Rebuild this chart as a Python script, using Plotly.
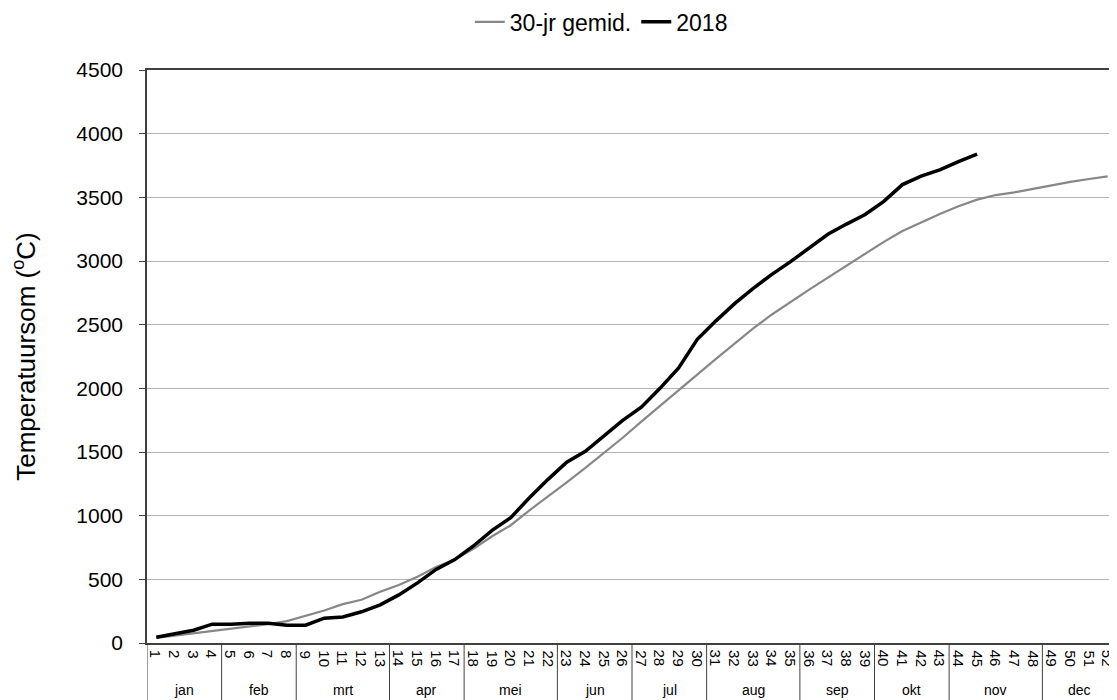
import plotly.graph_objects as go

# month names and number of weeks in each month (x-axis grouping)
months = ["jan", "feb", "mrt", "apr", "mei", "jun", "jul", "aug", "sep", "okt", "nov", "dec"]
weeks_per_month = [4, 4, 5, 4, 5, 4, 4, 5, 4, 4, 5, 4]
weeks = [str(w) for w in range(1, 53)]

# 30-year average temperature sum, week 1..52
avg_30yr = [40, 58, 75, 92, 110, 128, 148, 172, 212, 255, 305, 340, 403, 455,
            520, 597, 655, 740, 838, 925, 1042, 1150, 1262, 1375, 1492, 1612,
            1738, 1862, 1988, 2111, 2231, 2351, 2470, 2580, 2680, 2775, 2870,
            2965, 3060, 3150, 3235, 3304, 3369, 3430, 3482, 3518, 3539, 3567,
            3595, 3621, 3644, 3665]

# 2018 temperature sum, week 1..45
y2018 = [45, 72, 100, 148, 148, 155, 155, 140, 140, 195, 205, 245, 300, 378,
         472, 578, 655, 762, 885, 985, 1140, 1285, 1420, 1505, 1625, 1748,
         1852, 2000, 2160, 2385, 2530, 2665, 2785, 2895, 2995, 3105, 3210,
         3290, 3365, 3468, 3600, 3667, 3716, 3781, 3840]

W, H = 1109, 692          # page body adds an 8px margin
plot_top, plot_bottom = 62, 635
plot_h = plot_bottom - plot_top
label_y = -(682 - plot_bottom) / plot_h
divider_y = -(H - plot_bottom) / plot_h

fig = go.Figure()
fig.add_trace(go.Scatter(x=weeks, y=avg_30yr, mode="lines",
                         name="30-jr gemid.", line=dict(color="#878787", width=2.2)))
fig.add_trace(go.Scatter(x=weeks[:len(y2018)], y=y2018,
                         mode="lines", name="2018", line=dict(color="black", width=3.5)))

# week numbers, rotated like the Excel original (x is the category index)
for i, w in enumerate(weeks):
    fig.add_annotation(x=i, y=-5 / plot_h, xref="x", yref="paper", text=w,
                       textangle=90, showarrow=False, font=dict(size=15),
                       xanchor="center", yanchor="top")

# month labels and group dividers under the week labels
start = 0
for m, n in zip(months, weeks_per_month):
    fig.add_annotation(x=start + (n - 1) / 2, y=label_y, xref="x", yref="paper",
                       text=m, showarrow=False, font=dict(size=14), yanchor="middle")
    fig.add_shape(type="line", xref="x", yref="paper", x0=start - 0.5, x1=start - 0.5,
                  y0=0, y1=divider_y, line=dict(color="#404040", width=1))
    start += n

fig.update_layout(
    width=W, height=H,
    plot_bgcolor="white", paper_bgcolor="white",
    font=dict(family="Liberation Sans, Arial, sans-serif", color="black"),
    margin=dict(l=139, r=0, t=plot_top, b=H - plot_bottom),
    showlegend=True,
    legend=dict(orientation="h", xref="container", yref="container",
                x=0.535, xanchor="center", y=0.98, yanchor="middle",
                font=dict(size=23)),
)
fig.update_xaxes(type="category", range=[-0.5, 51.5], showline=True, linecolor="#404040",
                 linewidth=1.5, mirror=True, showgrid=False, ticks="",
                 showticklabels=False, automargin=False)
fig.update_yaxes(range=[0, 4500], tickvals=list(range(0, 4501, 500)), showline=True,
                 linecolor="#404040", linewidth=1.5, ticks="outside", ticklen=6,
                 tickcolor="#404040", gridcolor="#b3b3b3", gridwidth=1,
                 tickfont=dict(size=21), ticklabelstandoff=12, zeroline=False,
                 automargin=False,
                 title=dict(text="Temperatuursom (<sup>o</sup>C)", font=dict(size=26),
                            standoff=36))

fig.write_html("out.html")
